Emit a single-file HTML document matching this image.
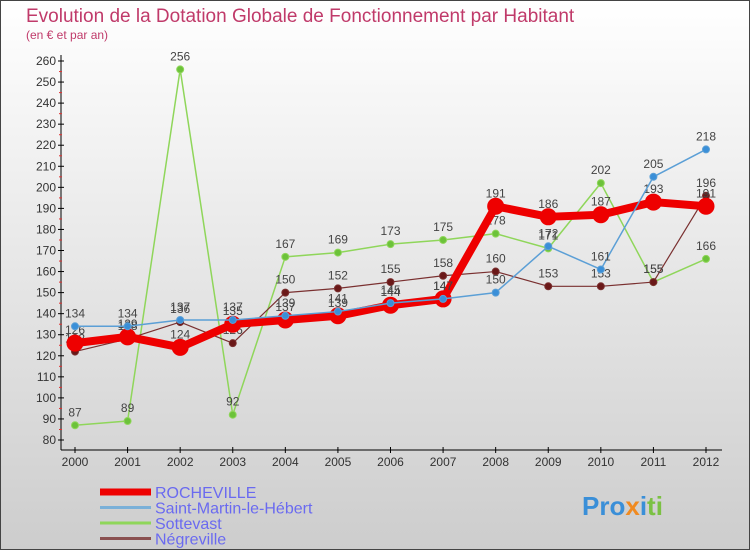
<!DOCTYPE html>
<html><head><meta charset="utf-8"><style>
body{margin:0;width:750px;height:550px;overflow:hidden;font-family:"Liberation Sans",sans-serif}
svg{display:block}
</style></head><body>
<svg id="c" width="750" height="550" xmlns="http://www.w3.org/2000/svg">
<defs><linearGradient id="bg" x1="0" y1="0" x2="0" y2="1"><stop offset="0" stop-color="#ffffff"/><stop offset="1" stop-color="#cdcdcd"/></linearGradient></defs>
<rect x="0.5" y="0.5" width="749" height="549" fill="url(#bg)" stroke="#444"/>
<text x="26" y="22" font-size="19" fill="#c03a6a">Evolution de la Dotation Globale de Fonctionnement par Habitant</text>
<text x="26" y="39" font-size="12" fill="#c03a6a">(en € et par an)</text>
<g id="axes"></g><g id="series"></g><g id="legend"></g>
<text x="582" y="515" font-size="26" font-weight="bold" fill="#3a8fd8">Pro<tspan fill="#f08a20">x</tspan><tspan fill="#3a8fd8">i</tspan><tspan fill="#7bc143">ti</tspan></text>
</svg>
<script>
const years=[2000,2001,2002,2003,2004,2005,2006,2007,2008,2009,2010,2011,2012];
const rocheville=[126,129,124,135,137,139,144,147,191,186,187,193,191];
const saintMartin=[134,134,137,137,139,141,145,147,150,172,161,205,218];
const sottevast=[87,89,256,92,167,169,173,175,178,171,202,155,166];
const negreville=[122,128,136,126,150,152,155,158,160,153,153,155,196];
const yTicks=[80,90,100,110,120,130,140,150,160,170,180,190,200,210,220,230,240,250,260];
const NS="http://www.w3.org/2000/svg";
const xS=i=>75+i*(706-75)/12;
const yS=v=>440-(v-80)*(440-61)/180;
function mk(tag,attrs,parent){const e=document.createElementNS(NS,tag);for(const k in attrs)e.setAttribute(k,attrs[k]);parent.appendChild(e);return e;}
const ax=document.getElementById('axes');
let l=mk('line',{x1:61,y1:55,x2:61,y2:450,stroke:'#000'},ax);


l=mk('line',{x1:61,y1:450,x2:722,y2:450,stroke:'#000'},ax);


yTicks.forEach((v,i)=>{
 const y=yS(v);
 mk('line',{x1:58,y1:y,x2:64,y2:y,stroke:'#000'},ax);
 if(i<yTicks.length-1)mk('line',{x1:59,y1:y-10.5,x2:62,y2:y-10.5,stroke:'#e03030'},ax);
 const t=mk('text',{x:56,y:y+4,'font-size':12,'text-anchor':'end',fill:'#333'},ax);
 t.textContent=v;
 
 
});
years.forEach((yr,i)=>{
 const x=xS(i);
 mk('line',{x1:x,y1:447,x2:x,y2:453,stroke:'#000'},ax);
 const t=mk('text',{x:x,y:466,'font-size':12,'text-anchor':'middle',fill:'#333'},ax);
 t.textContent=yr;
 
 
});
const sg=document.getElementById('series');
function series(data,color,lw,r,dot,name){
 const g=mk('g',{},sg);
 
 
 const p=mk('polyline',{points:data.map((v,i)=>xS(i)+','+yS(v)).join(' '),fill:'none',stroke:color,'stroke-width':lw,'stroke-linejoin':'round'},g);
 
 
 data.forEach((v,i)=>{
  const c=mk('circle',{cx:xS(i),cy:yS(v),r:r,fill:dot,stroke:color,'stroke-width':1},g);
  
  
  const t=mk('text',{x:xS(i),y:yS(v)-9,'font-size':12,'text-anchor':'middle',fill:'#444'},g);
  t.textContent=v;
  
  
 });
}
series(sottevast,'#8fd65a',1.5,3.5,'#6cc23a','sottevast');
series(negreville,'#7a3030',1.2,3.5,'#6a1818','negreville');
series(rocheville,'#ee0000',8,8,'#ee0000','rocheville');
series(saintMartin,'#5b9fd6',1.5,3.5,'#3a8fd8','saint-martin');
const lg=document.getElementById('legend');
[['ROCHEVILLE','#ee0000',7],['Saint-Martin-le-Hébert','#7ab0d8',3],['Sottevast','#8fd65a',3],['Négreville','#8a5050',3]].forEach((d,i)=>{
 const y=492+i*15.5;
 const ln=mk('line',{x1:100,y1:y,x2:151,y2:y,stroke:d[1],'stroke-width':d[2]},lg);
 
 
 const t=mk('text',{x:155,y:y+6,'font-size':16,fill:'#6a6af0'},lg);
 t.textContent=d[0];
 
 
});
</script>
</body></html>
